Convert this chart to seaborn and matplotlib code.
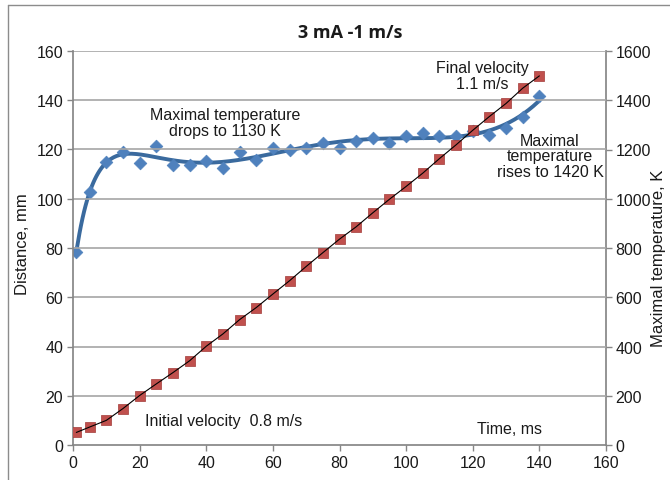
import numpy as np
import pandas as pd
import matplotlib
matplotlib.use("Agg")
import matplotlib.pyplot as plt
from matplotlib.lines import Line2D
import seaborn as sns

# Measurement times, ms
time_ms = [1, 5, 10, 15, 20, 25, 30, 35, 40, 45, 50, 55, 60, 65, 70,
           75, 80, 85, 90, 95, 100, 105, 110, 115, 120, 125, 130, 135, 140]
# Travelled distance, mm
distance_mm = [5.1, 7.3, 10.0, 14.8, 20.1, 24.8, 29.4, 34.2, 40.1, 45.1,
               50.9, 55.8, 61.3, 66.7, 72.5, 78.1, 83.6, 88.6, 94.3, 99.8,
               105.0, 110.4, 116.3, 121.9, 127.8, 133.4, 138.7, 144.9, 149.9]
# Maximal temperature, K
temperature_k = [785, 1027, 1148, 1188, 1146, 1215, 1139, 1139, 1155, 1124,
                 1188, 1156, 1205, 1198, 1206, 1228, 1205, 1236, 1248, 1225,
                 1255, 1267, 1253, 1255, 1277, 1260, 1288, 1330, 1417]

x_ticks = list(range(0, 161, 20))
dist_ticks = list(range(0, 161, 20))
temp_ticks = list(range(0, 1601, 200))

df = pd.DataFrame({"time": time_ms, "distance": distance_mm,
                   "temperature": temperature_k})

sns.set_theme(style="white")
plt.rcParams["font.family"] = ["Liberation Sans", "DejaVu Sans"]

W, H = 670, 481
fig = plt.figure(figsize=(W / 100, H / 100), dpi=100)
ax = fig.add_axes([73 / W, 1 - 446 / H, 533 / W, 394 / H])
ax2 = ax.twinx()

grid_c = "#a6a6a6"
axis_c = "#868686"
text_c = "#1a1a1a"

# Temperature trendline: polynomial in sqrt(time)
tt = np.linspace(min(time_ms), max(time_ms), 300)
coef = np.polyfit(np.sqrt(time_ms), temperature_k, 6)
temp_fit = np.polyval(coef, np.sqrt(tt))

ax.set_xlim(0, 160)
ax.set_ylim(0, 160)
ax2.set_ylim(0, 1600)
ax.set_xticks(x_ticks)
ax.set_yticks(dist_ticks)
ax2.set_yticks(temp_ticks)

for v in dist_ticks[1:]:
    ax.axhline(v, color=grid_c, lw=1.2, zorder=0)

sns.lineplot(x=tt, y=temp_fit, ax=ax2, color="#3a6a9e", lw=2.8, zorder=3)
sns.scatterplot(data=df, x="time", y="temperature", ax=ax2, marker="D",
                s=42, color="#4f81bd", edgecolor="#4f81bd", linewidth=0.5,
                zorder=4)
sns.scatterplot(data=df, x="time", y="distance", ax=ax, marker="s",
                s=62, color="#c0504d", edgecolor="#a23b38", linewidth=0.5,
                zorder=3)
sns.lineplot(data=df, x="time", y="distance", ax=ax, color="black", lw=0.8,
             zorder=4)
ax.set_zorder(ax2.get_zorder() + 1)
ax.patch.set_visible(False)

for a in (ax, ax2):
    a.set_xlabel("")
    a.set_ylabel("")
    for s in a.spines.values():
        s.set_visible(False)
    a.tick_params(axis="both", which="both", length=4, width=1,
                  color=axis_c, labelsize=11.5, labelcolor=text_c, pad=3)

ax.spines["left"].set_visible(True)
ax.spines["left"].set_color(axis_c)
ax.spines["bottom"].set_visible(True)
ax.spines["bottom"].set_color(axis_c)
ax2.spines["right"].set_visible(True)
ax2.spines["right"].set_color(axis_c)
ax.tick_params(axis="y", left=True, right=False)
ax.tick_params(axis="x", bottom=True)
ax2.tick_params(axis="y", right=True, left=False, pad=3)

ax.set_ylabel("Distance, mm", fontsize=12, color=text_c)
ax2.set_ylabel("Maximal temperature, K", fontsize=12, color=text_c)
# axis-title positions in figure pixels
ax.yaxis.set_label_coords(30 / W, 1 - 244 / H, transform=fig.transFigure)
ax2.yaxis.set_label_coords(651 / W, 1 - 258 / H, transform=fig.transFigure)

fig.text(350 / W, 1 - 33 / H, "3 mA -1 m/s", ha="center", va="center",
         fontsize=13, fontweight="bold", color=text_c,
         family=["Open Sans", "DejaVu Sans"])

fs = 11.5
ax.text(45.6, 131, "Maximal temperature\ndrops to 1130 K", ha="center",
        va="center", fontsize=fs, color=text_c, linespacing=1.1)
ax.text(123, 150.2, "Final velocity\n1.1 m/s", ha="center", va="center",
        fontsize=fs, color=text_c, linespacing=1.1)
ax.text(143.2, 117.5, "Maximal\ntemperature\nrises to 1420 K", ha="center",
        va="center", fontsize=fs, color=text_c, linespacing=1.05)
ax.text(21.6, 9.9, "Initial velocity  0.8 m/s", ha="left", va="center",
        fontsize=fs, color=text_c)
ax.text(131, 6.7, "Time, ms", ha="center", va="center", fontsize=fs,
        color=text_c)

# Chart-area frame
fig.add_artist(Line2D([8 / W, 1], [1 - 6 / H, 1 - 6 / H],
                      transform=fig.transFigure, color="#8c8c8c", lw=1))
fig.add_artist(Line2D([8 / W, 8 / W], [0, 1 - 6 / H],
                      transform=fig.transFigure, color="#8c8c8c", lw=1))

fig.savefig("out.png", dpi=100)
